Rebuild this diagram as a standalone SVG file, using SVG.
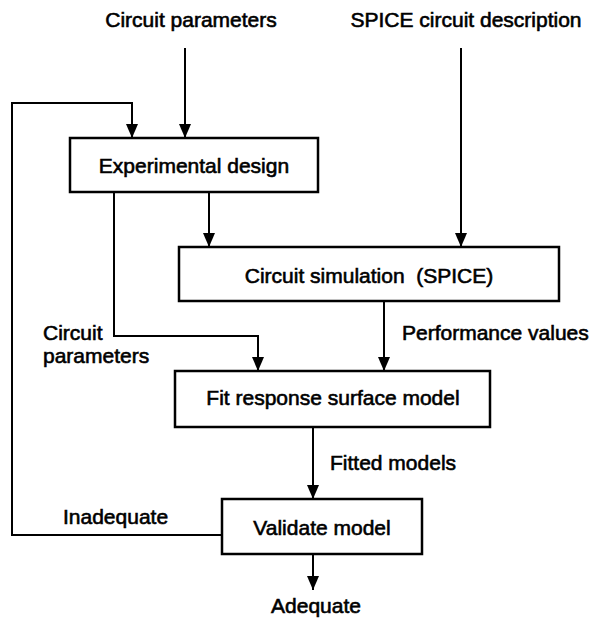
<svg xmlns="http://www.w3.org/2000/svg" width="591" height="618" viewBox="0 0 591 618">
<style>
.box{fill:#fff;stroke:#000;stroke-width:2.5}
.ln{fill:none;stroke:#000;stroke-width:2}
text{font-family:"Liberation Sans",Arial,sans-serif;font-size:21px;fill:#000;stroke:#000;stroke-width:0.6;white-space:pre}
.c{text-anchor:middle}
</style>
<defs>
<marker id="ah" markerUnits="userSpaceOnUse" markerWidth="14" markerHeight="12" refX="14" refY="6" orient="auto" viewBox="0 0 14 12">
<path d="M0,0 L14,6 L0,12 Z" fill="#000"/>
</marker>
</defs>
<rect width="591" height="618" fill="#fff"/>
<g id="connectors">
<path class="ln" d="M185,48 V138" marker-end="url(#ah)"/>
<path class="ln" d="M461,48 V247" marker-end="url(#ah)"/>
<path class="ln" d="M222,535 H12 V103 H132 V138" marker-end="url(#ah)"/>
<path class="ln" d="M209,192 V247" marker-end="url(#ah)"/>
<path class="ln" d="M114,192 V336 H258 V371" marker-end="url(#ah)"/>
<path class="ln" d="M384,301 V371" marker-end="url(#ah)"/>
<path class="ln" d="M313,427 V499" marker-end="url(#ah)"/>
<path class="ln" d="M313,554 V590" marker-end="url(#ah)"/>
</g>
<g id="labels">
<text class="c" x="191" y="27">Circuit parameters</text>
<text class="c" x="466" y="27">SPICE circuit description</text>
<text x="43" y="340">Circuit</text>
<text x="43" y="363">parameters</text>
<text x="402" y="340">Performance values</text>
<text x="330" y="470">Fitted models</text>
<text x="63" y="524">Inadequate</text>
<text class="c" x="316" y="613">Adequate</text>
</g>
<g id="experimental-design">
<rect class="box" x="70" y="138" width="248" height="54"/>
<text class="c" x="194" y="173">Experimental design</text>
</g>
<g id="circuit-simulation">
<rect class="box" x="179" y="247" width="380" height="54"/>
<text class="c" x="369" y="283">Circuit simulation  (SPICE)</text>
</g>
<g id="fit-model">
<rect class="box" x="175" y="371" width="315" height="56"/>
<text class="c" x="333" y="405">Fit response surface model</text>
</g>
<g id="validate-model">
<rect class="box" x="222" y="499" width="200" height="55"/>
<text class="c" x="322" y="535">Validate model</text>
</g>
</svg>
